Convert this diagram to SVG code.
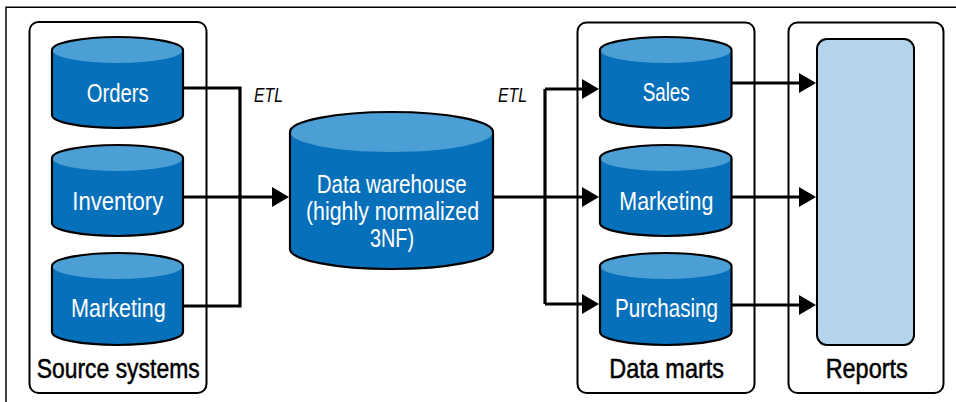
<svg xmlns="http://www.w3.org/2000/svg" width="956" height="402" viewBox="0 0 956 402">
  <style>
    .frame{fill:none;stroke:#000;stroke-width:1.5}
    .box{fill:#fff;stroke:#000;stroke-width:2}
    .body{fill:#0770ba;stroke:none}
    .top{fill:#4c9fd4;stroke:none}
    .outline{fill:none;stroke:#000;stroke-width:2.2}
    .wt{font-family:"Liberation Sans",Arial,sans-serif;font-size:25.5px;fill:#fff}
    .bt{font-family:"Liberation Sans",Arial,sans-serif;font-size:27.5px;fill:#000;stroke:#000;stroke-width:0.5}
    .etl{font-family:"Liberation Sans",Arial,sans-serif;font-size:19.5px;font-style:italic;fill:#000}
    .conn{fill:none;stroke:#000;stroke-width:3.2}
    .arr{fill:none;stroke:#000;stroke-width:3.2;marker-end:url(#ah)}
    .rep{fill:#b3d4ea;stroke:#000;stroke-width:2}
  </style>
  <defs>
    <marker id="ah" markerUnits="userSpaceOnUse" markerWidth="18" markerHeight="20" refX="9" refY="10" orient="auto">
      <path d="M0,0 L17,10 L0,20 Z" fill="#000"/>
    </marker>
  </defs>

  <path class="frame" d="M6,402 V7.3 H956"/>

  <g id="source-systems">
    <rect class="box" x="29.5" y="22" width="177" height="371" rx="9"/>
    <text class="bt" x="36.7" y="378" textLength="163" lengthAdjust="spacingAndGlyphs">Source systems</text>
  </g>
  <g id="data-marts">
    <rect class="box" x="577.5" y="22.5" width="177" height="370.5" rx="9"/>
    <text class="bt" x="609.3" y="378" textLength="114.7" lengthAdjust="spacingAndGlyphs">Data marts</text>
  </g>
  <g id="reports">
    <rect class="box" x="788.5" y="22.5" width="155" height="370.5" rx="9"/>
    <rect class="rep" x="817" y="39" width="97" height="306" rx="10"/>
    <text class="bt" x="825.7" y="378" textLength="82" lengthAdjust="spacingAndGlyphs">Reports</text>
  </g>

  <g id="connectors">
    <path class="conn" d="M183,88 H240 V306 H183"/>
    <path class="arr" d="M183,197 H281"/>
    <path class="arr" d="M493,197 H591"/>
    <path class="conn" d="M545,89 V304"/>
    <path class="arr" d="M545,89 H591"/>
    <path class="arr" d="M545,304 H591"/>
    <path class="arr" d="M731,83 H808"/>
    <path class="arr" d="M731,197 H808"/>
    <path class="arr" d="M731,305 H808"/>
    <text class="etl" x="254" y="101.5" textLength="29" lengthAdjust="spacingAndGlyphs">ETL</text>
    <text class="etl" x="498" y="101.5" textLength="29" lengthAdjust="spacingAndGlyphs">ETL</text>
  </g>

  <g id="orders">
    <path class="body" d="M52,50 A65.5,13 0 0 1 183,50 V115 A65.5,13 0 0 1 52,115 Z"/>
    <ellipse class="top" cx="117.5" cy="50" rx="65.5" ry="13"/>
    <path class="outline" d="M52,50 A65.5,13 0 0 1 183,50 V115 A65.5,13 0 0 1 52,115 Z"/>
    <text class="wt" x="86.7" y="101.5" textLength="62" lengthAdjust="spacingAndGlyphs">Orders</text>
  </g>
  <g id="inventory">
    <path class="body" d="M52,158 A65.5,13 0 0 1 183,158 V223 A65.5,13 0 0 1 52,223 Z"/>
    <ellipse class="top" cx="117.5" cy="158" rx="65.5" ry="13"/>
    <path class="outline" d="M52,158 A65.5,13 0 0 1 183,158 V223 A65.5,13 0 0 1 52,223 Z"/>
    <text class="wt" x="72.3" y="210" textLength="91" lengthAdjust="spacingAndGlyphs">Inventory</text>
  </g>
  <g id="marketing-source">
    <path class="body" d="M52,266 A65.5,13 0 0 1 183,266 V332 A65.5,13 0 0 1 52,332 Z"/>
    <ellipse class="top" cx="117.5" cy="266" rx="65.5" ry="13"/>
    <path class="outline" d="M52,266 A65.5,13 0 0 1 183,266 V332 A65.5,13 0 0 1 52,332 Z"/>
    <text class="wt" x="71" y="317" textLength="94.7" lengthAdjust="spacingAndGlyphs">Marketing</text>
  </g>

  <g id="data-warehouse">
    <path class="body" d="M290,132 A101.5,20 0 0 1 493,132 V249 A101.5,20 0 0 1 290,249 Z"/>
    <ellipse class="top" cx="391.5" cy="132" rx="101.5" ry="20"/>
    <path class="outline" d="M290,132 A101.5,20 0 0 1 493,132 V249 A101.5,20 0 0 1 290,249 Z"/>
    <text class="wt" x="316.7" y="193" textLength="150" lengthAdjust="spacingAndGlyphs">Data warehouse</text>
    <text class="wt" x="306" y="220" textLength="173" lengthAdjust="spacingAndGlyphs">(highly normalized</text>
    <text class="wt" x="370" y="246.5" textLength="44" lengthAdjust="spacingAndGlyphs">3NF)</text>
  </g>

  <g id="sales">
    <path class="body" d="M600,50 A65.75,13 0 0 1 731.5,50 V115 A65.75,13 0 0 1 600,115 Z"/>
    <ellipse class="top" cx="665.75" cy="50" rx="65.75" ry="13"/>
    <path class="outline" d="M600,50 A65.75,13 0 0 1 731.5,50 V115 A65.75,13 0 0 1 600,115 Z"/>
    <text class="wt" x="642.7" y="101" textLength="47" lengthAdjust="spacingAndGlyphs">Sales</text>
  </g>
  <g id="marketing-mart">
    <path class="body" d="M600,158 A65.75,13 0 0 1 731.5,158 V223 A65.75,13 0 0 1 600,223 Z"/>
    <ellipse class="top" cx="665.75" cy="158" rx="65.75" ry="13"/>
    <path class="outline" d="M600,158 A65.75,13 0 0 1 731.5,158 V223 A65.75,13 0 0 1 600,223 Z"/>
    <text class="wt" x="619.3" y="210" textLength="94" lengthAdjust="spacingAndGlyphs">Marketing</text>
  </g>
  <g id="purchasing">
    <path class="body" d="M600,266 A65.75,13 0 0 1 731.5,266 V332 A65.75,13 0 0 1 600,332 Z"/>
    <ellipse class="top" cx="665.75" cy="266" rx="65.75" ry="13"/>
    <path class="outline" d="M600,266 A65.75,13 0 0 1 731.5,266 V332 A65.75,13 0 0 1 600,332 Z"/>
    <text class="wt" x="615" y="317" textLength="103" lengthAdjust="spacingAndGlyphs">Purchasing</text>
  </g>
</svg>
